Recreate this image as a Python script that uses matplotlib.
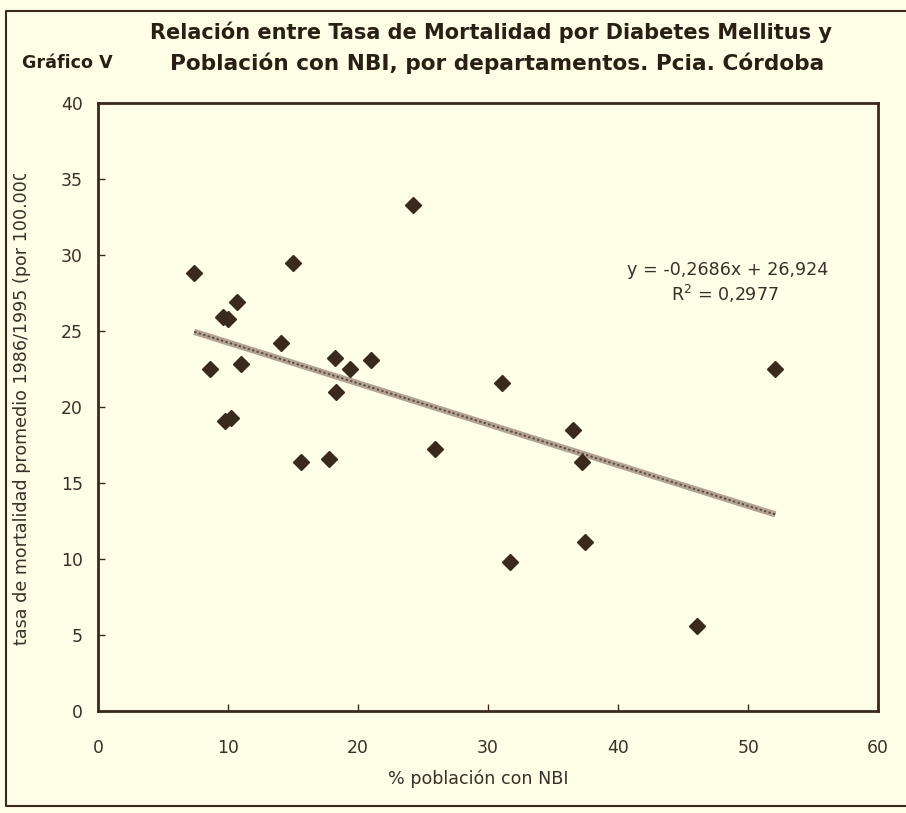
import matplotlib
matplotlib.use("Agg")
import matplotlib.pyplot as plt
from matplotlib.transforms import Bbox
from matplotlib.lines import Line2D
import numpy as np

# ---- data ----
nbi_pct = [7.4, 8.6, 9.6, 10.0, 10.7, 11.0, 9.8, 10.2, 14.1, 15.0, 15.6, 17.8,
           18.2, 18.3, 19.4, 21.0, 24.2, 25.9, 31.1, 31.7, 36.5, 37.2, 37.45, 46.1, 52.1]
mortality = [28.8, 22.5, 25.9, 25.8, 26.9, 22.8, 19.1, 19.3, 24.2, 29.45, 16.4, 16.6,
             23.2, 21.0, 22.5, 23.1, 33.3, 17.2, 21.6, 9.8, 18.5, 16.4, 11.1, 5.6, 22.5]
trend_slope = -0.2686
trend_intercept = 26.924
r_squared = "0,2977"
x_ticks = [0, 10, 20, 30, 40, 50, 60]
y_ticks = [0, 5, 10, 15, 20, 25, 30, 35, 40]

bg = "#FEFEE6"
ink = "#3a2a1c"
txt = "#3a3028"
fs = 12.6

fig = plt.figure(figsize=(9.06, 8.13), dpi=100, facecolor=bg)
ax = fig.add_axes([0.1082, 0.1255, 0.861, 0.748], facecolor=bg)

# trend line over the data range
tx = np.array([min(nbi_pct), max(nbi_pct)])
ty = trend_slope * tx + trend_intercept
ax.plot(tx, ty, color="#b3a393", lw=4.5, solid_capstyle="butt", zorder=2)
ax.plot(tx, ty, color="#5e4e40", lw=1.4, ls=(0, (1.2, 1.2)), zorder=3)

ax.plot(nbi_pct, mortality, ls="none", marker="D", ms=8, color=ink,
        markeredgecolor=ink, zorder=4)

ax.set_xlim(0, 60)
ax.set_ylim(0, 40)
ax.set_xticks(x_ticks)
ax.set_yticks(y_ticks)
ax.set_xticklabels([str(v) for v in x_ticks])
ax.set_yticklabels([str(v) for v in y_ticks])
ax.tick_params(axis="both", direction="in", length=5, width=1, color=ink,
               labelsize=12.4, labelcolor=txt)
ax.tick_params(axis="x", pad=20)
ax.tick_params(axis="y", pad=11)
for s in ax.spines.values():
    s.set_color(ink)
    s.set_linewidth(2)

# trend equation
ax.text(48.4, 29.0, "y = -0,2686x + 26,924", ha="center", va="center",
        fontsize=fs, color=txt)
ax.text(48.2, 27.4, "R$^2$ = " + r_squared, ha="center", va="center",
        fontsize=fs, color=txt)

# axis labels
fig.text(478 / 906, 1 - 779 / 813, "% población con NBI", ha="center", va="center",
         fontsize=fs, color=txt)
yl = fig.text(22 / 906, 1 - 645 / 813,
              "tasa de mortalidad promedio 1986/1995 (por 100.000)",
              rotation=90, ha="center", va="bottom", fontsize=fs, color=txt)
yl.set_clip_box(Bbox.from_extents(0, 0, 906, 813 - 174))
yl.set_clip_on(True)

# titles
tc = "#2a1f15"
fig.text(491 / 906, 1 - 32 / 813,
         "Relación entre Tasa de Mortalidad por Diabetes Mellitus y",
         ha="center", va="center", fontsize=15, fontweight="bold", color=tc)
fig.text(497 / 906, 1 - 63 / 813,
         "Población con NBI, por departamentos. Pcia. Córdoba",
         ha="center", va="center", fontsize=15.6, fontweight="bold", color=tc)
fig.text(22 / 906, 1 - 63 / 813, "Gráfico V", ha="left", va="center",
         fontsize=12.6, fontweight="bold", color=tc)

# outer frame (left, top, bottom)
fx = [1.0, 6 / 906, 6 / 906, 1.0]
fy = [1 - 11 / 813, 1 - 11 / 813, 1 - 806 / 813, 1 - 806 / 813]
fig.add_artist(Line2D(fx, fy, transform=fig.transFigure, color=ink, lw=1.5))

fig.savefig("out.png", dpi=100, facecolor=bg)
